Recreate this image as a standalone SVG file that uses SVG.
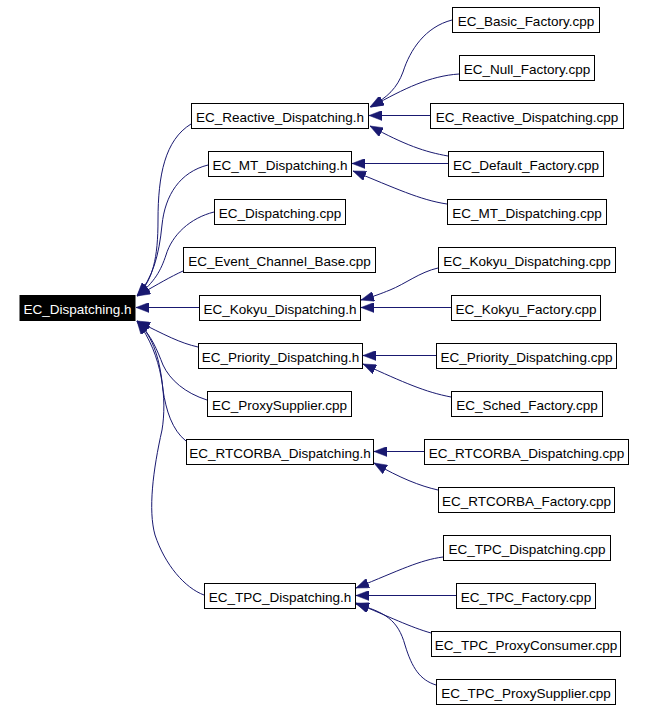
<svg xmlns="http://www.w3.org/2000/svg" width="646" height="710" viewBox="0 0 646 710">
<style>
.n rect{fill:#fff;stroke:#000;stroke-width:1}
.n text{font-family:"Liberation Sans",Arial,sans-serif;font-size:13.5px;fill:#000;text-anchor:middle}
#root rect{fill:#000}
#root text{fill:#fff}
.e path{fill:none;stroke:#191970;stroke-width:1;marker-end:url(#ah)}
</style>
<defs>
<marker id="ah" markerUnits="userSpaceOnUse" viewBox="0 0 13 10" markerWidth="13" markerHeight="10" refX="13" refY="5" orient="auto">
<path d="M0,0 L13,5 L0,10 z" fill="#191970" stroke="#191970" stroke-width="0.5"/>
</marker>
</defs>
<rect width="646" height="710" fill="#fff"/>
<g class="e" id="edges">
<path d="M452,20 C425,27 410,50 403,72 C397,88 388,97 370,107"/>
<path d="M459,74 C430,76 405,88 371,107"/>
<path d="M430,115.5 L369,115.5"/>
<path d="M448,156 C425,152 405,145 370,126"/>
<path d="M448,163.5 L352,163.5"/>
<path d="M447,204 C420,200 395,188 353,171"/>
<path d="M191,124 C165,140 158,175 158,220 C158,258 153,280 137,296"/>
<path d="M208,165 C180,172 165,195 162,225 C159,255 153,278 137,296"/>
<path d="M214,212 C190,218 172,235 166,255 C161,270 155,282 137,296"/>
<path d="M183,271 C170,277 160,283 137,296"/>
<path d="M199,307.5 L136,307.5"/>
<path d="M198,347 C180,343 165,335 137,321"/>
<path d="M207,400 C185,393 170,380 163,365 C157,350 152,336 137,321"/>
<path d="M186,441 C172,430 166,410 163,390 C160,360 154,338 137,321"/>
<path d="M204,595 C185,588 165,565 155,535 C148,510 153,470 162,430 C167,400 163,355 137,321"/>
<path d="M438,268 C420,272 405,284 390,290 C380,294 375,296 361,300"/>
<path d="M451,307.5 L361,307.5"/>
<path d="M436,355.5 L363,355.5"/>
<path d="M451,397 C425,392 405,383 363,364"/>
<path d="M424,451.5 L374,451.5"/>
<path d="M438,490 C420,486 400,478 374,463"/>
<path d="M443,557 C420,560 400,570 356,588"/>
<path d="M456,595.5 L356,595.5"/>
<path d="M431,633 C410,627 390,617 356,603"/>
<path d="M436,685 C420,680 412,668 405,645 C398,620 385,612 356,604"/>
</g>
<g class="n" id="root"><rect x="20" y="295.5" width="115" height="25"/><text x="77.5" y="314">EC_Dispatching.h</text></g>
<g class="n" id="reactive_h"><rect x="191.5" y="103.5" width="177" height="25"/><text x="280" y="122">EC_Reactive_Dispatching.h</text></g>
<g class="n" id="mt_h"><rect x="208.5" y="151.5" width="143" height="25"/><text x="280" y="170">EC_MT_Dispatching.h</text></g>
<g class="n" id="disp_cpp"><rect x="214.5" y="199.5" width="131" height="25"/><text x="280" y="218">EC_Dispatching.cpp</text></g>
<g class="n" id="ecb_cpp"><rect x="183.5" y="247.5" width="192" height="25"/><text x="279.5" y="266">EC_Event_Channel_Base.cpp</text></g>
<g class="n" id="kokyu_h"><rect x="199.5" y="295.5" width="161" height="25"/><text x="280" y="314">EC_Kokyu_Dispatching.h</text></g>
<g class="n" id="prio_h"><rect x="198.5" y="343.5" width="164" height="25"/><text x="280.5" y="362">EC_Priority_Dispatching.h</text></g>
<g class="n" id="ps_cpp"><rect x="207.5" y="391.5" width="144" height="25"/><text x="279.5" y="410">EC_ProxySupplier.cpp</text></g>
<g class="n" id="rtc_h"><rect x="186.5" y="439.5" width="187" height="25"/><text x="280" y="458">EC_RTCORBA_Dispatching.h</text></g>
<g class="n" id="tpc_h"><rect x="204.5" y="583.5" width="151" height="25"/><text x="280" y="602">EC_TPC_Dispatching.h</text></g>
<g class="n" id="basic_f"><rect x="452.5" y="7.5" width="147" height="25"/><text x="526" y="26">EC_Basic_Factory.cpp</text></g>
<g class="n" id="null_f"><rect x="459.5" y="55.5" width="135" height="25"/><text x="527" y="74">EC_Null_Factory.cpp</text></g>
<g class="n" id="reactive_cpp"><rect x="430.5" y="103.5" width="193" height="25"/><text x="527" y="122">EC_Reactive_Dispatching.cpp</text></g>
<g class="n" id="default_f"><rect x="448.5" y="151.5" width="155" height="25"/><text x="526" y="170">EC_Default_Factory.cpp</text></g>
<g class="n" id="mt_cpp"><rect x="447.5" y="199.5" width="159" height="25"/><text x="527" y="218">EC_MT_Dispatching.cpp</text></g>
<g class="n" id="kokyu_cpp"><rect x="438.5" y="247.5" width="177" height="25"/><text x="527" y="266">EC_Kokyu_Dispatching.cpp</text></g>
<g class="n" id="kokyu_f"><rect x="451.5" y="295.5" width="149" height="25"/><text x="526" y="314">EC_Kokyu_Factory.cpp</text></g>
<g class="n" id="prio_cpp"><rect x="436.5" y="343.5" width="180" height="25"/><text x="526.5" y="362">EC_Priority_Dispatching.cpp</text></g>
<g class="n" id="sched_f"><rect x="451.5" y="391.5" width="151" height="25"/><text x="527" y="410">EC_Sched_Factory.cpp</text></g>
<g class="n" id="rtc_cpp"><rect x="424.5" y="439.5" width="204" height="25"/><text x="526.5" y="458">EC_RTCORBA_Dispatching.cpp</text></g>
<g class="n" id="rtc_f"><rect x="438.5" y="487.5" width="176" height="25"/><text x="526.5" y="506">EC_RTCORBA_Factory.cpp</text></g>
<g class="n" id="tpc_cpp"><rect x="443.5" y="535.5" width="167" height="25"/><text x="527" y="554">EC_TPC_Dispatching.cpp</text></g>
<g class="n" id="tpc_f"><rect x="456.5" y="583.5" width="139" height="25"/><text x="526" y="602">EC_TPC_Factory.cpp</text></g>
<g class="n" id="tpc_pc"><rect x="431.5" y="631.5" width="189" height="25"/><text x="526" y="650">EC_TPC_ProxyConsumer.cpp</text></g>
<g class="n" id="tpc_ps"><rect x="436.5" y="679.5" width="179" height="25"/><text x="526" y="698">EC_TPC_ProxySupplier.cpp</text></g>
</svg>
